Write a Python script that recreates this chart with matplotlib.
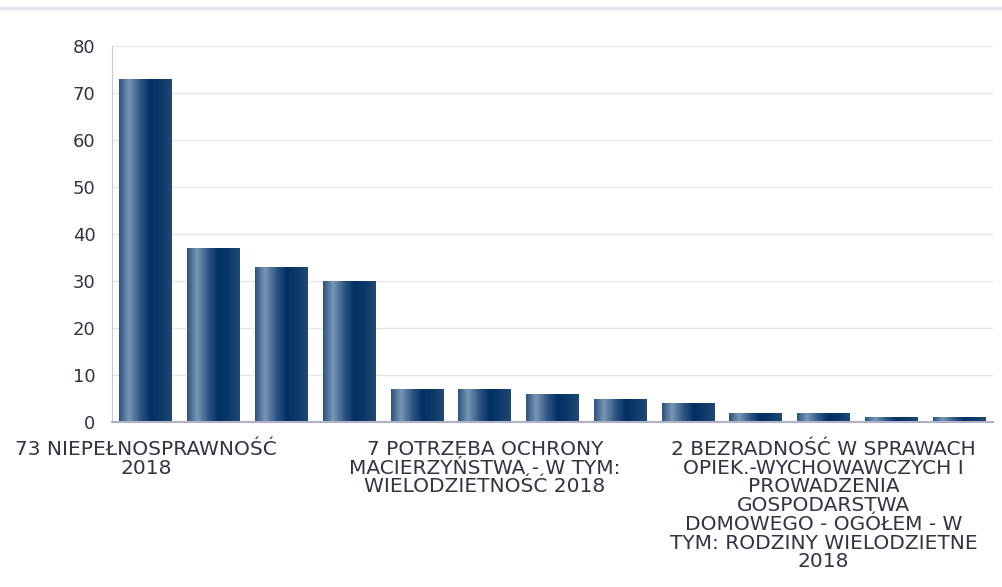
import numpy as np
import matplotlib.pyplot as plt
from matplotlib.colors import LinearSegmentedColormap
from matplotlib.lines import Line2D

plt.rcParams['font.family'] = ['DejaVu Sans']

values = [73, 37, 33, 30, 7, 7, 6, 5, 4, 2, 2, 1, 1]
tick_pos = [0, 5, 10]
tick_labels = [
    "73 NIEPEŁNOSPRAWNOŚĆ\n2018",
    "7 POTRZEBA OCHRONY\nMACIERZYŃSTWA - W TYM:\nWIELODZIETNOŚĆ 2018",
    "2 BEZRADNOŚĆ W SPRAWACH\nOPIEK.-WYCHOWAWCZYCH I\nPROWADZENIA\nGOSPODARSTWA\nDOMOWEGO - OGÓŁEM - W\nTYM: RODZINY WIELODZIETNE\n2018",
]
text_color = "#333344"

grad = LinearSegmentedColormap.from_list("bar", [
    (0.0, "#2d5480"), (0.18, "#7896b4"), (0.42, "#2a5280"),
    (0.6, "#003063"), (0.78, "#0a3868"), (1.0, "#214873")])

fig = plt.figure(figsize=(10.02, 5.87), dpi=100)
ax = fig.add_axes([112 / 1002, 1 - 422 / 587, 881 / 1002, 376 / 587])

x = np.arange(len(values))
bars = ax.bar(x, values, width=0.78, color="none", edgecolor="none", zorder=2)
img = np.linspace(0, 1, 64).reshape(1, -1)
for b in bars:
    x0, w, h = b.get_x(), b.get_width(), b.get_height()
    im = ax.imshow(img, cmap=grad, extent=[x0, x0 + w, 0, h], aspect="auto",
                   zorder=2, interpolation="bilinear")
    im.set_clip_path(b)

ax.set_xlim(-0.5, len(values) - 0.5)
ax.set_ylim(0, 80)
ax.set_yticks(range(0, 81, 10))
ax.grid(axis="y", color="#e6e6ee", linewidth=1, zorder=0)
ax.set_axisbelow(True)

ax.set_xticks(tick_pos)
ax.set_xticklabels(tick_labels, fontsize=14.5, color=text_color, linespacing=0.98)
ax.tick_params(axis="both", length=0, labelcolor=text_color)
ax.tick_params(axis="x", pad=13)
ax.tick_params(axis="y", pad=12, labelsize=13)

for s in ["top", "right"]:
    ax.spines[s].set_visible(False)
ax.spines["left"].set_color("#c8c8d8")
ax.spines["bottom"].set_color("#b0b0c8")
ax.spines["bottom"].set_linewidth(1.5)

fig.add_artist(Line2D([0, 1], [1 - 8 / 587, 1 - 8 / 587], color="#e4e4ee", linewidth=2.5))

fig.savefig("out.png", dpi=100)
